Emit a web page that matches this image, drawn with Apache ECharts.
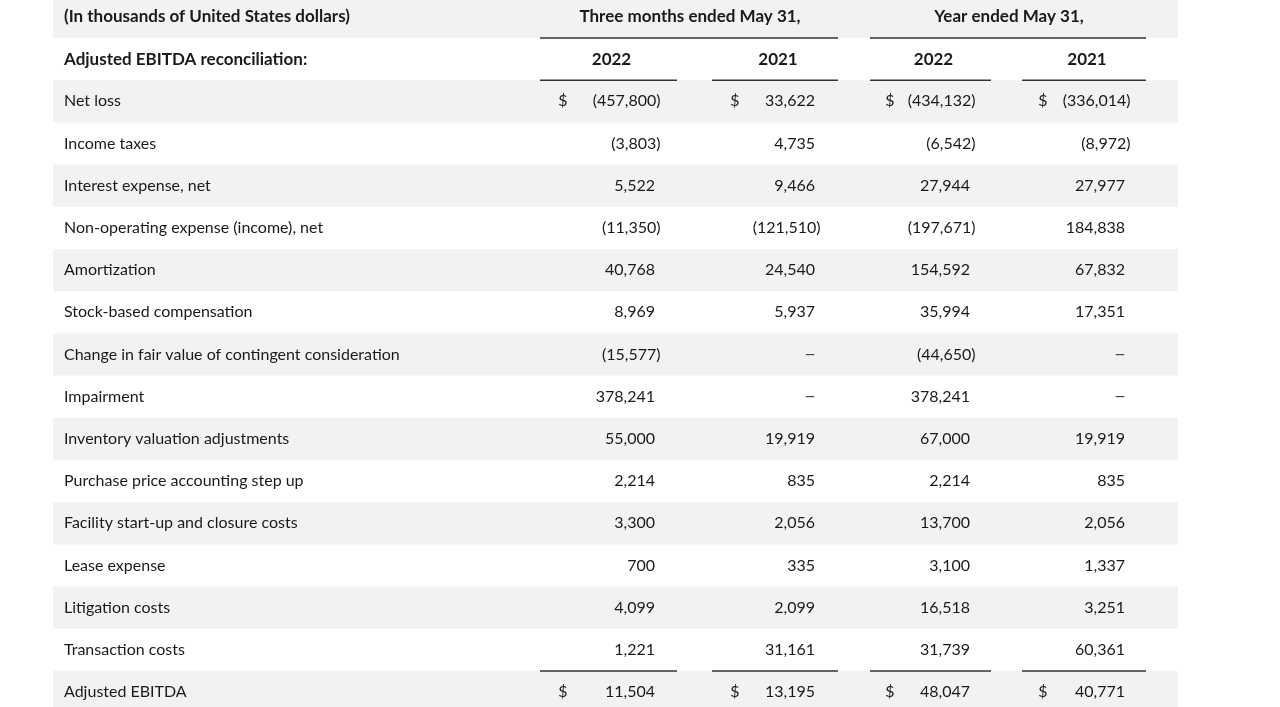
<!DOCTYPE html>
<html>
<head>
<meta charset="utf-8">
<script src="https://cdn.jsdelivr.net/npm/echarts@6/dist/echarts.min.js"></script>
<style>html,body{margin:0;padding:0;background:#fff;}#c{width:1280px;height:707px;}</style>
</head>
<body>
<div id="c"></div>
<script>
// ---------- DATA ----------
const unitNote = '(In thousands of United States dollars)';
const sectionTitle = 'Adjusted EBITDA reconciliation:';
const groupHeaders = ['Three months ended May 31,', 'Year ended May 31,'];
const yearHeaders = ['2022', '2021', '2022', '2021'];
const rowLabels = [
  'Net loss',
  'Income taxes',
  'Interest expense, net',
  'Non-operating expense (income), net',
  'Amortization',
  'Stock-based compensation',
  'Change in fair value of contingent consideration',
  'Impairment',
  'Inventory valuation adjustments',
  'Purchase price accounting step up',
  'Facility start-up and closure costs',
  'Lease expense',
  'Litigation costs',
  'Transaction costs',
  'Adjusted EBITDA'
];
const threeMonths2022 = [-457800, -3803, 5522, -11350, 40768, 8969, -15577, 378241, 55000, 2214, 3300, 700, 4099, 1221, 11504];
const threeMonths2021 = [33622, 4735, 9466, -121510, 24540, 5937, null, null, 19919, 835, 2056, 335, 2099, 31161, 13195];
const year2022 = [-434132, -6542, 27944, -197671, 154592, 35994, -44650, 378241, 67000, 2214, 13700, 3100, 16518, 31739, 48047];
const year2021 = [-336014, -8972, 27977, 184838, 67832, 17351, null, null, 19919, 835, 2056, 1337, 3251, 60361, 40771];
const currencyRows = ['Net loss', 'Adjusted EBITDA'];
const currencySymbol = '$';

// ---------- LAYOUT / STYLE ----------
const FONT = 'Lato, "Open Sans", sans-serif';
const TEXT = '#1a1a1a';
const BAND = '#f2f2f2';
const RULE = '#333333';
const ROW_H = 42.2;        // px per row
const FIRST_CENTER = 16.9; // px, center of first row
const H = 707;
const TABLE_L = 53, TABLE_R = 1178;
const LABEL_X = 64;
const VALUE_R = [655, 815, 970, 1125];
const PAREN_W = 5.5;
const DOLLAR_X = [563, 735, 890, 1043];
const COL_RULE = [[540, 677], [712, 838], [870, 991], [1022, 1146]];
const GROUP_RULE = [[540, 838], [870, 1146]];
const HEAD_ROWS = 2;

const columns = [threeMonths2022, threeMonths2021, year2022, year2021];
const nRows = rowLabels.length + HEAD_ROWS;
const yMin = -FIRST_CENTER / ROW_H;
const yMax = yMin + H / ROW_H;

function fmt(v) {
  if (v === null || v === undefined) return null;
  const s = Math.abs(v).toString().replace(/\B(?=(\d{3})+(?!\d))/g, ',');
  return v < 0 ? '(' + s + ')' : s;
}

// cells
const cells = [];
cells.push({x: LABEL_X, row: 0, text: unitNote, align: 'left', bold: true});
cells.push({x: LABEL_X, row: 1, text: sectionTitle, align: 'left', bold: true});
groupHeaders.forEach((g, i) => {
  cells.push({x: (GROUP_RULE[i][0] + GROUP_RULE[i][1]) / 2 + 1, row: 0, text: g, align: 'center', bold: true});
});
yearHeaders.forEach((y, i) => {
  cells.push({x: (COL_RULE[i][0] + COL_RULE[i][1]) / 2 + 3, row: 1, text: y, align: 'center', bold: true});
});
rowLabels.forEach((lab, r) => {
  const row = r + HEAD_ROWS;
  cells.push({x: LABEL_X, row: row, text: lab, align: 'left', bold: false});
  columns.forEach((col, c) => {
    const v = col[r];
    if (v === null) {
      cells.push({x: VALUE_R[c], row: row, text: '\u2014', align: 'right', bold: false, dash: true});
    } else {
      cells.push({x: VALUE_R[c] + (v < 0 ? PAREN_W : 0), row: row, text: fmt(v), align: 'right', bold: false});
    }
    if (currencyRows.indexOf(lab) >= 0) {
      cells.push({x: DOLLAR_X[c], row: row, text: currencySymbol, align: 'center', bold: false});
    }
  });
});

// bands: gray rows
const bandRows = [];
for (let r = 0; r < nRows; r += 2) bandRows.push(r);

// rules (drawn at top edge of a row)
const rules = [];
GROUP_RULE.forEach(g => rules.push({x0: g[0], x1: g[1], row: 1}));
COL_RULE.forEach(g => rules.push({x0: g[0], x1: g[1], row: 2}));
COL_RULE.forEach(g => rules.push({x0: g[0], x1: g[1], row: nRows - 1}));

const chart = echarts.init(document.getElementById('c'), null, {renderer: 'canvas'});
chart.setOption({
  backgroundColor: '#ffffff',
  animation: false,
  grid: {left: 0, right: 0, top: 0, bottom: 0, containLabel: false},
  xAxis: {type: 'value', min: 0, max: 1280, show: false},
  yAxis: {type: 'value', min: yMin, max: yMax, inverse: true, show: false},
  series: [
    {
      type: 'custom', silent: true, z: 1, clip: false,
      data: bandRows.map(r => [TABLE_L, r]),
      renderItem: function (params, api) {
        const r = api.value(1);
        const a = api.coord([TABLE_L, r - 0.5]);
        const b = api.coord([TABLE_R, r + 0.5]);
        return {type: 'rect', shape: {x: a[0], y: a[1], width: b[0] - a[0], height: b[1] - a[1]}, style: {fill: BAND}};
      }
    },
    {
      type: 'custom', silent: true, z: 3,
      data: rules.map(r => [r.x0, r.row]),
      renderItem: function (params, api) {
        const rr = rules[params.dataIndex];
        const a = api.coord([rr.x0, rr.row - 0.5]);
        const b = api.coord([rr.x1, rr.row - 0.5]);
        return {type: 'line', shape: {x1: a[0], y1: a[1], x2: b[0], y2: b[1]}, style: {stroke: RULE, lineWidth: 1.5}};
      }
    },
    {
      type: 'custom', silent: true, z: 5,
      data: cells.map(c => [c.x, c.row]),
      renderItem: function (params, api) {
        const c = cells[params.dataIndex];
        const p = api.coord([c.x, c.row]);
        return {
          type: 'text',
          x: p[0], y: p[1],
          style: {
            text: c.text,
            fill: c.dash ? '#444' : TEXT,
            font: (c.bold ? 'bold 17px ' : (c.dash ? 'bold 12.5px ' : '16px ')) + FONT,
            align: c.align,
            verticalAlign: 'middle'
          }
        };
      }
    }
  ]
});
</script>
</body>
</html>
